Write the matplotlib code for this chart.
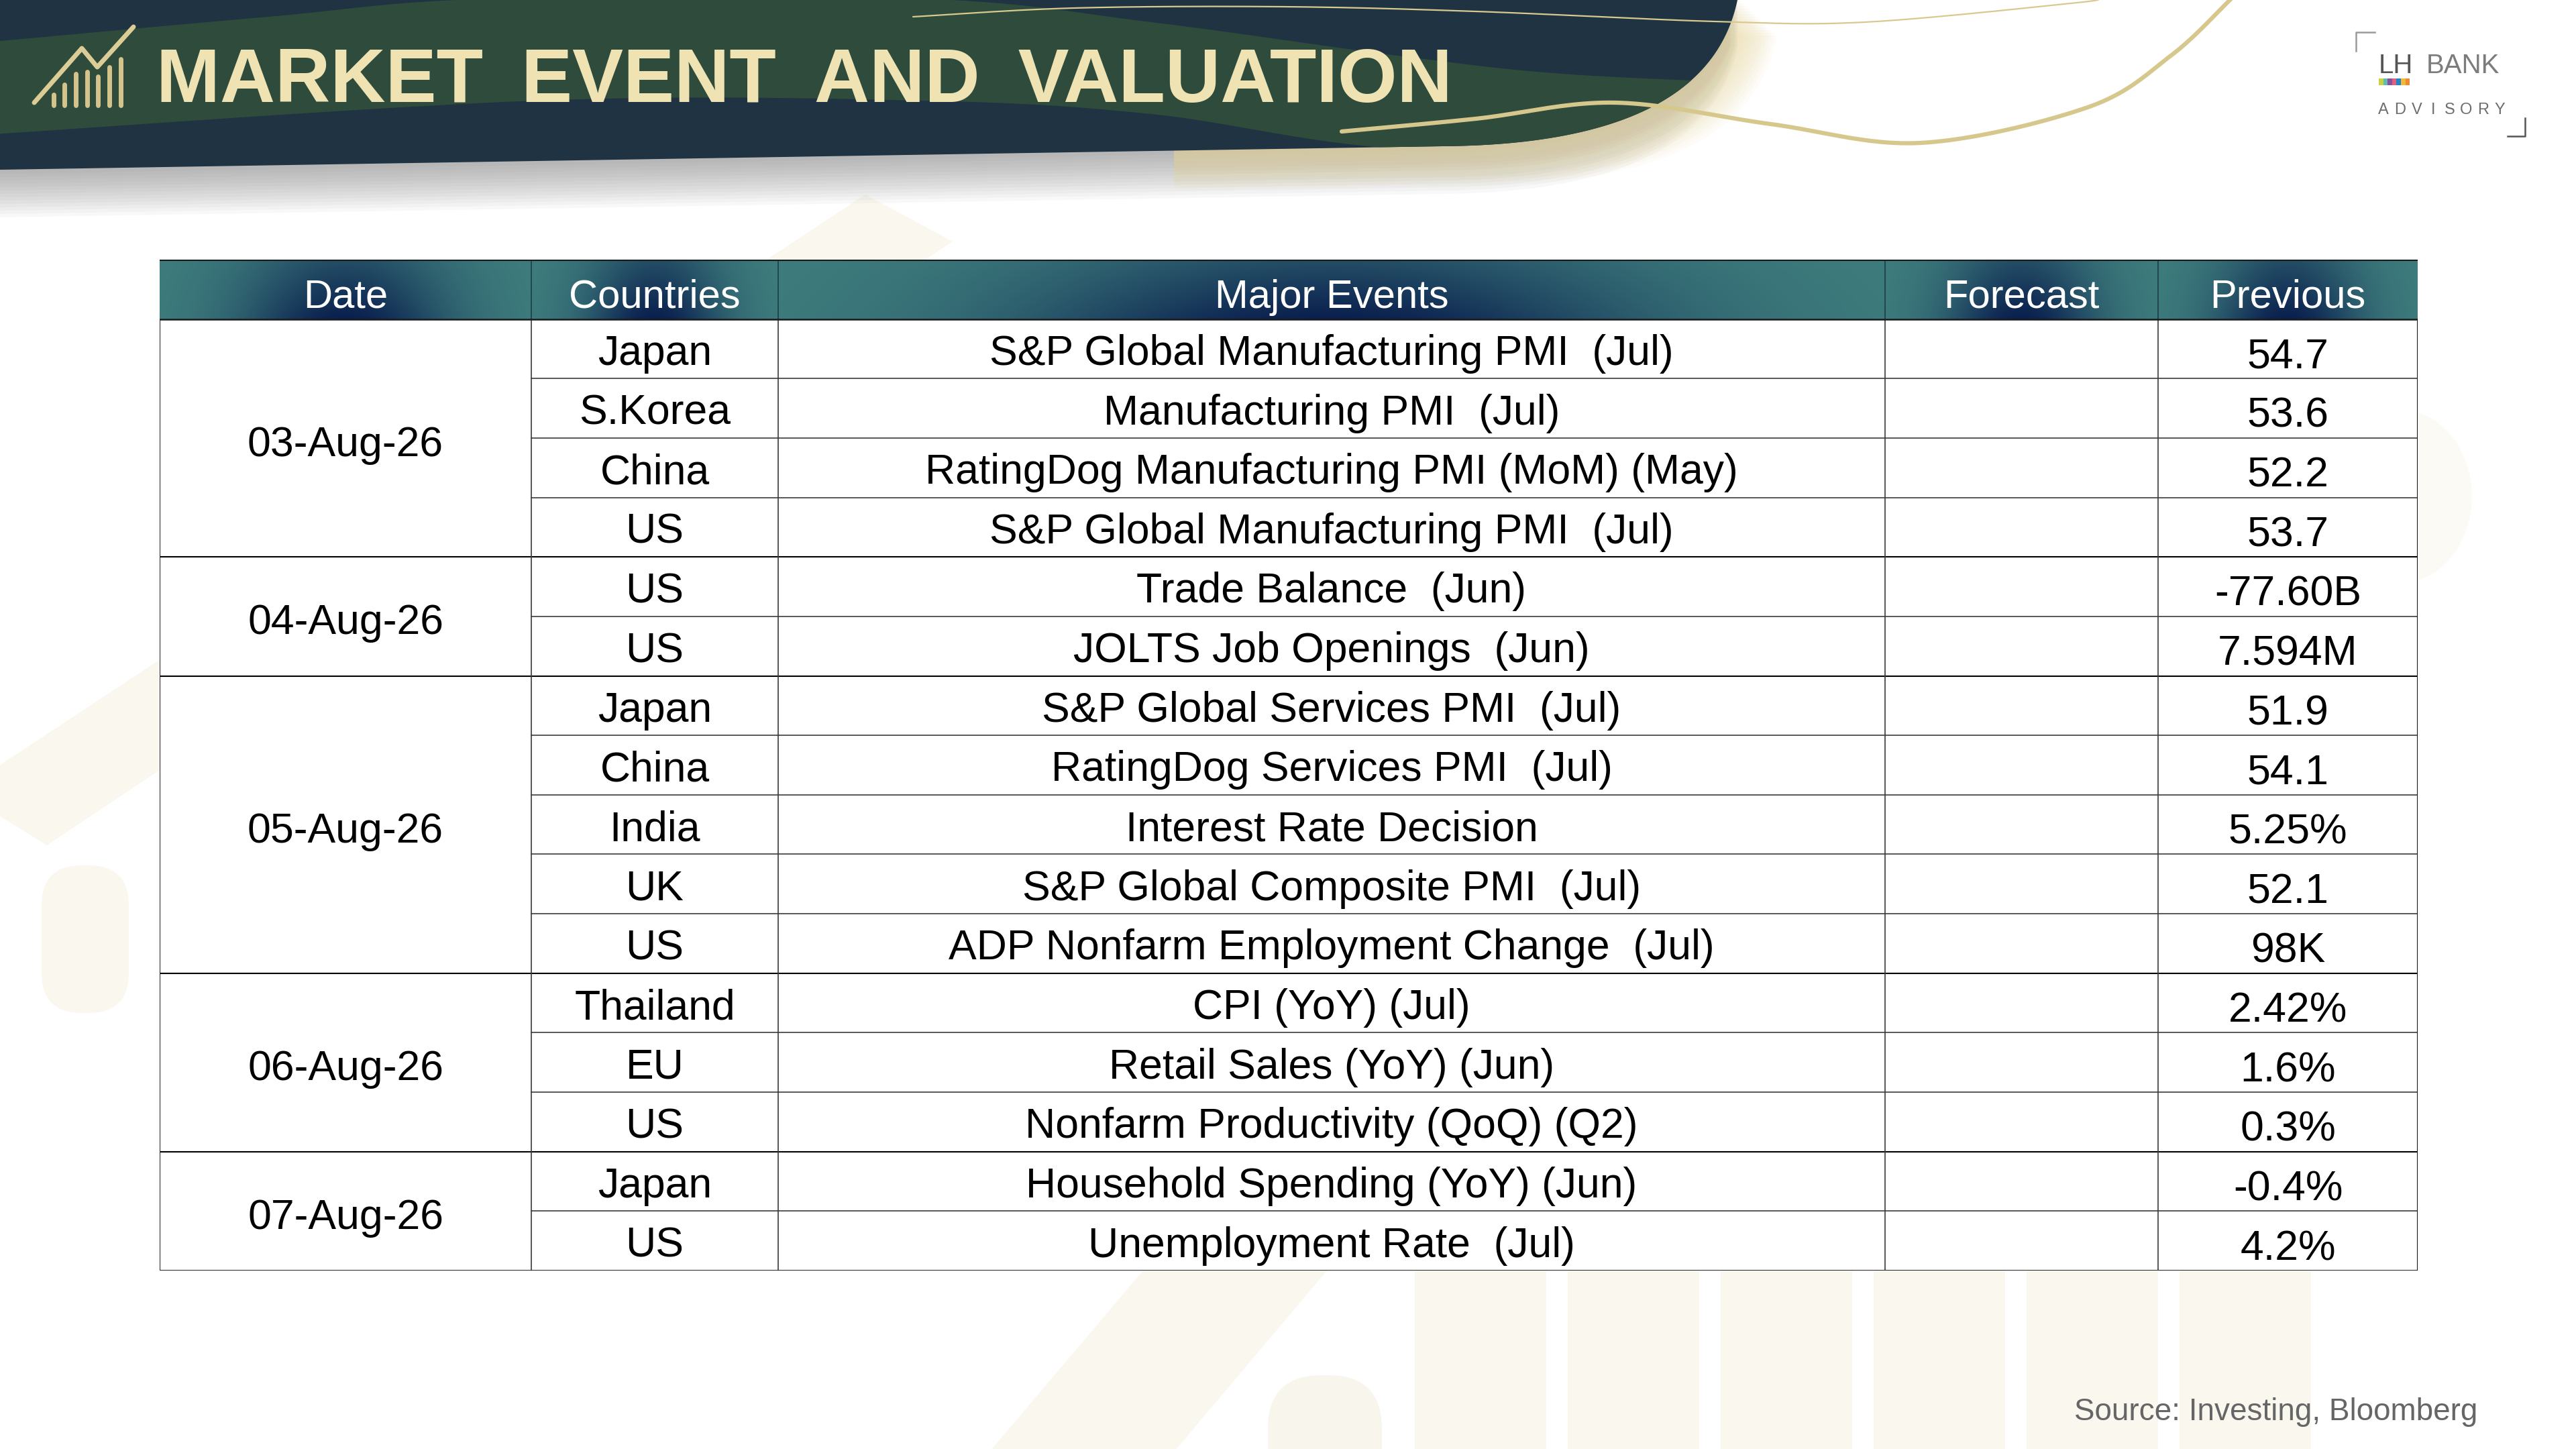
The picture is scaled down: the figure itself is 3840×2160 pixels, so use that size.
import numpy as np
import matplotlib.pyplot as plt
from matplotlib.patches import Polygon, Rectangle, Ellipse, FancyBboxPatch
from matplotlib.colors import to_rgb

plt.rcParams['font.family'] = ['Liberation Sans', 'DejaVu Sans']

# ---- table data ----
headers = ["Date", "Countries", "Major Events", "Forecast", "Previous"]
dates = ["03-Aug-26", "04-Aug-26", "05-Aug-26", "06-Aug-26", "07-Aug-26"]
rows_per_date = [4, 2, 5, 3, 2]
countries = ["Japan", "S.Korea", "China", "US",
             "US", "US",
             "Japan", "China", "India", "UK", "US",
             "Thailand", "EU", "US",
             "Japan", "US"]
events = ["S&P Global Manufacturing PMI  (Jul)",
          "Manufacturing PMI  (Jul)",
          "RatingDog Manufacturing PMI (MoM) (May)",
          "S&P Global Manufacturing PMI  (Jul)",
          "Trade Balance  (Jun)",
          "JOLTS Job Openings  (Jun)",
          "S&P Global Services PMI  (Jul)",
          "RatingDog Services PMI  (Jul)",
          "Interest Rate Decision",
          "S&P Global Composite PMI  (Jul)",
          "ADP Nonfarm Employment Change  (Jul)",
          "CPI (YoY) (Jul)",
          "Retail Sales (YoY) (Jun)",
          "Nonfarm Productivity (QoQ) (Q2)",
          "Household Spending (YoY) (Jun)",
          "Unemployment Rate  (Jul)"]
forecast = [""] * len(events)
previous = ["54.7", "53.6", "52.2", "53.7",
            "-77.60B", "7.594M",
            "51.9", "54.1", "5.25%", "52.1", "98K",
            "2.42%", "1.6%", "0.3%",
            "-0.4%", "4.2%"]

title = "MARKET\u2002EVENT\u2002AND\u2002VALUATION"
source = "Source: Investing, Bloomberg"

W, H = 3840, 2160
NAVY = "#1f3342"
GREEN = "#2f4b3b"
GOLD = "#d6c88d"
CREAM = "#faf7ef"


def smooth(pts, n=24):
    # catmull-rom through the given points
    pts = np.asarray(pts, float)
    p = np.vstack([pts[0], pts, pts[-1]])
    out = []
    t = np.linspace(0, 1, n, endpoint=False)[:, None]
    for i in range(1, len(p) - 2):
        p0, p1, p2, p3 = p[i - 1], p[i], p[i + 1], p[i + 2]
        out.append(0.5 * (2 * p1 + (-p0 + p2) * t + (2 * p0 - 5 * p1 + 4 * p2 - p3) * t ** 2
                          + (-p0 + 3 * p1 - 3 * p2 + p3) * t ** 3))
    out.append(pts[-1:])
    return np.vstack(out)


fig = plt.figure(figsize=(W / 100, H / 100), dpi=100)
bg = fig.add_axes([0, 0, 1, 1])
bg.set_xlim(0, W)
bg.set_ylim(H, 0)
bg.axis('off')

# faint background decorations
bg.add_patch(Polygon([(1290, 290), (1420, 360), (70, 1260), (-60, 1180)], closed=True,
                     color=CREAM, lw=0, zorder=0))
bg.add_patch(FancyBboxPatch((62, 1290), 130, 220, boxstyle="round,pad=0,rounding_size=60",
                            color=CREAM, lw=0, zorder=0))
bg.add_patch(Ellipse((3575, 740), 220, 260, color="#fcfaf4", lw=0, zorder=0))
for x0 in [2109, 2337, 2565, 2793, 3021, 3249]:
    bg.add_patch(Rectangle((x0, 1880), 196, 300, color=CREAM, lw=0, zorder=0))
bg.add_patch(Polygon([(1716, 1880), (1990, 1880), (1745, 2170), (1470, 2170)], closed=True,
                     color=CREAM, lw=0, zorder=0))
bg.add_patch(FancyBboxPatch((1890, 2050), 170, 200, boxstyle="round,pad=0,rounding_size=80",
                            color="#f8f5ec", lw=0, zorder=0))

# header band
t = np.linspace(0, 1, 80)[:, None]
P0, P1, P2 = np.array([2590, 0]), np.array([2545, 215]), np.array([2150, 218])
edge = (1 - t) ** 2 * P0 + 2 * t * (1 - t) * P1 + t ** 2 * P2
band = np.vstack([[0, -5], [2590, -5], edge, [0, 253]])

for k in range(14):
    sh = band + np.array([0, 6 + k * 5])
    bg.add_patch(Polygon(sh, closed=True, color="#6e6e6e", alpha=0.045, lw=0, zorder=1))
glow_clip = Rectangle((1750, 0), 1200, 400, transform=bg.transData)
for k in range(14):
    sh = band + np.array([6 + k * 4, 6 + k * 4])
    p = Polygon(sh, closed=True, color="#e9d79c", alpha=0.07, lw=0, zorder=1.1)
    bg.add_patch(p)
    p.set_clip_path(glow_clip)

band_patch = Polygon(band, closed=True, color=NAVY, lw=0, zorder=2)
bg.add_patch(band_patch)

upper = smooth([(-10, 62), (400, 25), (735, -2), (1373, -2), (1716, 33), (2084, 83),
                (2329, 110), (2650, 125)])
lower = smooth([(-10, 200), (800, 150), (1373, 150), (1716, 170), (2084, 222), (2650, 240)])
green = Polygon(np.vstack([upper, lower[::-1]]), closed=True, color=GREEN, lw=0, zorder=2.1)
bg.add_patch(green)
green.set_clip_path(band_patch)

# gold curves
thin = smooth([(1361, 25), (1600, 12), (1912, 10), (2200, 17), (2556, 32), (2780, 33),
               (3087, 5), (3130, -2)])
bg.plot(thin[:, 0], thin[:, 1], color="#d8ca8f", lw=1.6, zorder=3, solid_capstyle='round')
thick = smooth([(2000, 196), (2200, 177), (2407, 153), (2640, 185), (2863, 213),
                (3112, 160), (3236, 83), (3319, 5), (3325, -2)])
bg.plot(thick[:, 0], thick[:, 1], color=GOLD, lw=4.5, zorder=3, solid_capstyle='round')

# icon
icon_line = np.array([(51, 153), (122, 72), (145, 100), (199, 40)])
bg.plot(icon_line[:, 0], icon_line[:, 1], color="#dccd97", lw=5, zorder=4,
        solid_capstyle='round', solid_joinstyle='round')
bar_x = [80, 96, 113, 130, 146, 163, 180]
bar_top = [141, 126, 110, 107, 114, 100, 88]
for bx, bt in zip(bar_x, bar_top):
    bg.plot([bx, bx], [bt, 157], color="#d4c48c", lw=5, zorder=4, solid_capstyle='round')

bg.text(233, 152, title, fontsize=82, fontweight='bold', color="#efe3b3",
        ha='left', va='baseline', zorder=5)

# logo
bg.plot([3512, 3512, 3540], [76, 48, 48], color="#9a9a9a", lw=1.8, zorder=5)
bg.plot([3738, 3764, 3764], [203, 203, 176], color="#555555", lw=1.8, zorder=5)
bg.text(3546, 109, "LH", fontsize=29, color="#555555", ha='left', va='baseline', zorder=5)
bg.text(3617, 109, "BANK", fontsize=29, color="#7c7c7c", ha='left', va='baseline', zorder=5)
logo_cols = ["#c9d43c", "#5cbdb4", "#8a50a0", "#e0607e", "#1f86c8", "#f2b933", "#f08a32"]
for i, c in enumerate(logo_cols):
    bg.add_patch(Rectangle((3546 + i * 6.6, 117), 6.6, 10, color=c, lw=0, zorder=5))
for i, ch in enumerate("ADVISORY"):
    bg.text(3553 + i * 24.7, 170, ch, fontsize=17, color="#6e6e6e", ha='center',
            va='baseline', zorder=5)

bg.text(3693, 2117, source, fontsize=33, color="#666666", ha='right', va='baseline', zorder=5)

# ---- table ----
col_w = [554, 368, 1650, 407, 387]
edges = np.concatenate([[0], np.cumsum(col_w)])
total = edges[-1]
n = len(events)

ax = fig.add_axes([238 / W, 1 - 1894 / H, total / W, (1894 - 387) / H])
ax.set_xlim(0, total)
ax.set_ylim(n - 0.5, -1.5)
ax.axis('off')
ax.set_zorder(2)

ax.add_patch(Rectangle((0, -0.5), total, n, color="white", lw=0, zorder=0))

teal = np.array(to_rgb("#3e7d7d"))
navy = np.array(to_rgb("#0a1f4e"))
for j in range(len(headers)):
    nx, ny = 300, 60
    u = np.linspace(-1, 1, nx)[None, :]
    v = np.linspace(0, 1, ny)[:, None]
    w = np.exp(-(u / 0.55) ** 2) * (0.5 + 0.5 * v)
    img = teal[None, None, :] * (1 - w[..., None]) + navy[None, None, :] * w[..., None]
    ax.imshow(img, extent=(edges[j], edges[j + 1], -0.5, -1.5), origin='upper',
              aspect='auto', interpolation='bilinear', zorder=1)
    ax.text((edges[j] + edges[j + 1]) / 2, -1 + 0.31, headers[j], fontsize=43,
            color="white", ha='center', va='baseline', zorder=3)

# row texts
group_start = np.concatenate([[0], np.cumsum(rows_per_date)[:-1]])
for d, s, c in zip(dates, group_start, rows_per_date):
    ax.text(col_w[0] / 2, s + (c - 1) / 2 + 0.3, d, fontsize=45, color="black",
            ha='center', va='baseline', zorder=3)
cols = [countries, events, forecast, previous]
offs = [0.27, 0.27, 0.27, 0.32]
for k, vals in enumerate(cols):
    xc = (edges[k + 1] + edges[k + 2]) / 2
    for i, val in enumerate(vals):
        ax.text(xc, i + offs[k], val, fontsize=45, color="black", ha='center',
                va='baseline', zorder=3)

# grid lines
group_ends = set(np.cumsum(rows_per_date)[:-1])
for i in range(1, n):
    if i in group_ends:
        ax.plot([0, total], [i - 0.5, i - 0.5], color="black", lw=1.5, zorder=4)
    else:
        ax.plot([col_w[0], total], [i - 0.5, i - 0.5], color="#3c3c3c", lw=1.2, zorder=4)
for x in edges[1:-1]:
    ax.plot([x, x], [-1.5, -0.5], color="#1d3d48", lw=1.2, zorder=4)
    ax.plot([x, x], [-0.5, n - 0.5], color="#3a3a3a", lw=1.2, zorder=4)
ax.plot([0, total], [-1.5, -1.5], color="#1a1a1a", lw=2.2, zorder=4)
ax.plot([0, total], [-0.5, -0.5], color="#1a1a1a", lw=1.8, zorder=4)
ax.plot([0, total], [n - 0.5, n - 0.5], color="#2a2a2a", lw=2.2, zorder=4)
ax.plot([0, 0], [-0.5, n - 0.5], color="#2a2a2a", lw=1.5, zorder=4)
ax.plot([total, total], [-0.5, n - 0.5], color="#111111", lw=2.2, zorder=4)

fig.savefig("out.png", dpi=100)
